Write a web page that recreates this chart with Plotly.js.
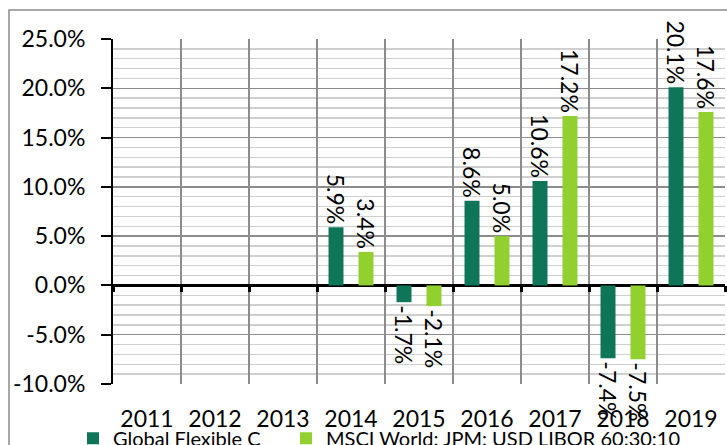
<!DOCTYPE html>
<html><head><meta charset="utf-8">
<script src="https://cdn.plot.ly/plotly-3.0.1.min.js"></script>
<style>html,body{margin:0;padding:0;background:#fff;}#chart{width:727px;height:445px;}</style>
</head><body><div id="chart"></div>
<script>
var years = ['2011','2012','2013','2014','2015','2016','2017','2018','2019'];
var fundName = 'Global Flexible C';
var benchName = 'MSCI World: JPM: USD LIBOR 60:30:10';
var fundValues = [null, null, null, 5.9, -1.7, 8.6, 10.6, -7.4, 20.1];
var benchValues = [null, null, null, 3.4, -2.1, 5.0, 17.2, -7.5, 17.6];
var yTickVals = [-10, -5, 0, 5, 10, 15, 20, 25];
var yTickText = yTickVals.map(function(v){ return v.toFixed(1) + '%'; });

function labels(v){ return v.map(function(d){ return d === null ? '' : d.toFixed(1) + '%'; }); }

var FONT = 'Lato, "Open Sans", sans-serif';
var PAD = '\u00a0\u00a0\u00a0\u00a0';
var traces = [
  {type:'bar', name:fundName + PAD, x:years, y:fundValues, marker:{color:'#0f7558'},
   text:labels(fundValues), textposition:'outside', textangle:90, constraintext:'none',
   cliponaxis:false, textfont:{family:FONT, size:23, color:'#000'}, hoverinfo:'skip'},
  {type:'bar', name:benchName, x:years, y:benchValues, marker:{color:'#92d02f'},
   text:labels(benchValues), textposition:'outside', textangle:90, constraintext:'none',
   cliponaxis:false, textfont:{family:FONT, size:23, color:'#000'}, hoverinfo:'skip'}
];

var layout = {
  width:727, height:445,
  margin:{l:113, r:2, t:39, b:61, autoexpand:false},
  paper_bgcolor:'#fff', plot_bgcolor:'#fff',
  font:{family:FONT, size:23, color:'#000'},
  barmode:'group', bargap:0.118, bargroupgap:0.5,
  showlegend:true,
  legend:{orientation:'h', xref:'container', yref:'container', x:0.1004, xanchor:'left',
          y:0.015, yanchor:'middle', bgcolor:'rgba(0,0,0,0)',
          font:{family:FONT, size:20, color:'#000'}, itemwidth:30,
          traceorder:'normal'},
  xaxis:{type:'category', categoryarray:years, categoryorder:'array',
         tickson:'boundaries', showgrid:true, gridcolor:'#8c8c8c', gridwidth:1.5,
         anchor:'free', position:10/35,
         ticks:'outside', ticklen:6, tickwidth:3, tickcolor:'#000',
         showline:false, zeroline:false, ticklabelstandoff:118,
         tickfont:{family:FONT, size:23, color:'#000'}, fixedrange:true, automargin:false},
  yaxis:{range:[-10,25], tickvals:yTickVals, ticktext:yTickText,
         showgrid:true, gridcolor:'#8c8c8c', gridwidth:1.5,
         minor:{dtick:1, showgrid:true, gridcolor:'#cfcfcf', gridwidth:1.5, ticks:''},
         zeroline:true, zerolinecolor:'#000', zerolinewidth:3,
         showline:true, linecolor:'#000', linewidth:2,
         ticks:'outside', ticklen:10, tickwidth:2, tickcolor:'#000', ticklabelstandoff:11,
         tickfont:{family:FONT, size:23, color:'#000'}, fixedrange:true, automargin:false},
  shapes:[{type:'rect', xref:'paper', yref:'paper', x0:-104/612, x1:1.2, y0:-0.5, y1:374/345,
           line:{color:'#8c8c8c', width:1.5}, fillcolor:'rgba(0,0,0,0)', layer:'below'}]
};
Plotly.newPlot('chart', traces, layout, {staticPlot:true, displayModeBar:false});
</script></body></html>
